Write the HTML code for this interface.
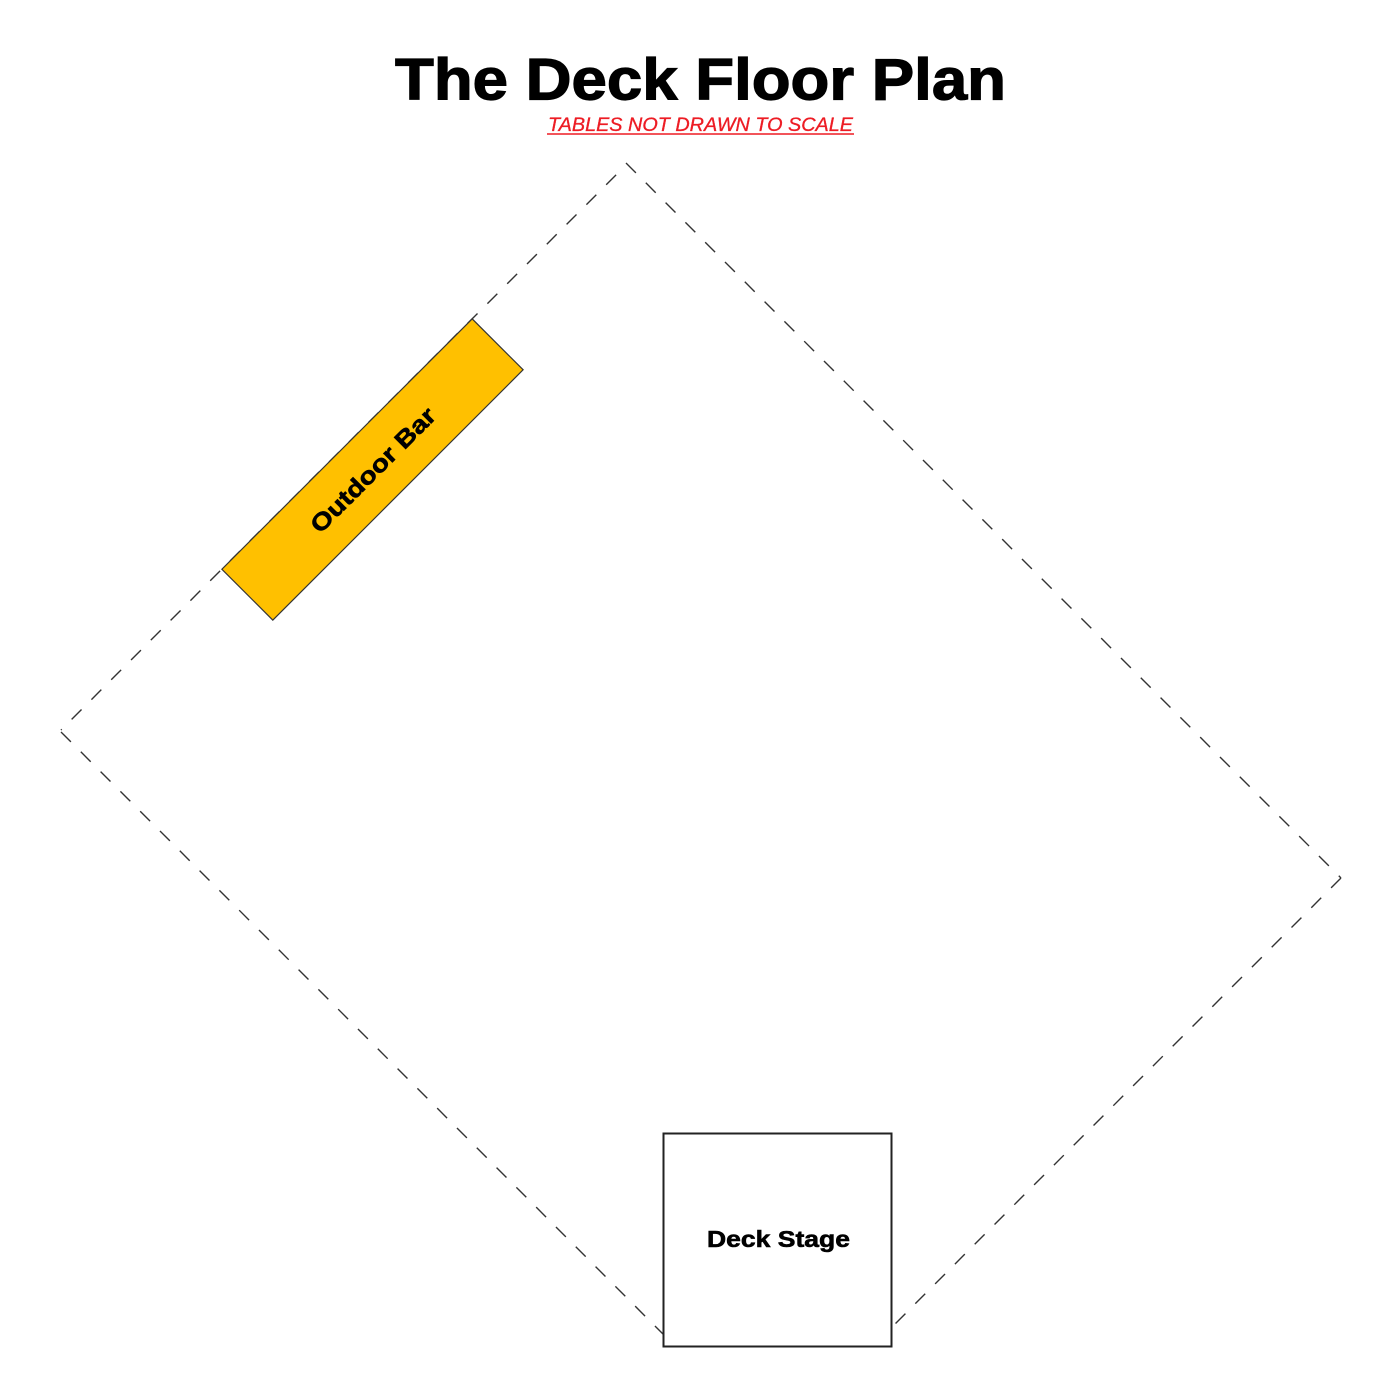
<!DOCTYPE html>
<html>
<head>
<meta charset="utf-8">
<style>
html,body{margin:0;padding:0;background:#fff;}
svg{display:block;}
</style>
</head>
<body>
<svg width="1400" height="1400" viewBox="0 0 1400 1400" xmlns="http://www.w3.org/2000/svg">
  <rect width="1400" height="1400" fill="#fff"/>
  <!-- Title -->
  <text x="395" y="99.5" font-family="Liberation Sans, sans-serif" font-weight="bold" font-size="58.5" textLength="611" lengthAdjust="spacingAndGlyphs" fill="#000" stroke="#000" stroke-width="1.2">The Deck Floor Plan</text>
  <text x="548" y="131" font-family="Liberation Sans, sans-serif" font-style="italic" font-size="19" textLength="305" lengthAdjust="spacingAndGlyphs" fill="#ED1C24" stroke="#ED1C24" stroke-width="0.3">TABLES NOT DRAWN TO SCALE</text>
  <line x1="547" y1="134" x2="854" y2="134" stroke="#ED1C24" stroke-width="1.5"/>

  <!-- Deck outline (dashed) -->
  <g stroke="#333" stroke-width="1.4" stroke-dasharray="14 14" fill="none">
    <line x1="626" y1="165" x2="61" y2="730" stroke-dashoffset="14"/>
    <line x1="626" y1="163" x2="1341" y2="878"/>
    <line x1="1341" y1="878" x2="891" y2="1328"/>
    <line x1="61" y1="732" x2="670" y2="1341"/>
  </g>

  <!-- Outdoor Bar -->
  <g transform="translate(372.5,469.5) rotate(-45)">
    <rect x="-177" y="-36" width="354" height="72" fill="#FFC000" stroke="#333" stroke-width="1.2"/>
    <text x="0" y="9" text-anchor="middle" font-family="Liberation Sans, sans-serif" font-weight="bold" font-size="24" textLength="166" lengthAdjust="spacingAndGlyphs" fill="#000" stroke="#000" stroke-width="0.6">Outdoor Bar</text>
  </g>

  <!-- Deck Stage -->
  <rect x="663.5" y="1133.5" width="228" height="213" fill="#fff" stroke="#222" stroke-width="2"/>
  <text x="707" y="1247" font-family="Liberation Sans, sans-serif" font-weight="bold" font-size="23.5" textLength="143" lengthAdjust="spacingAndGlyphs" fill="#000" stroke="#000" stroke-width="0.6">Deck Stage</text>
</svg>
</body>
</html>
